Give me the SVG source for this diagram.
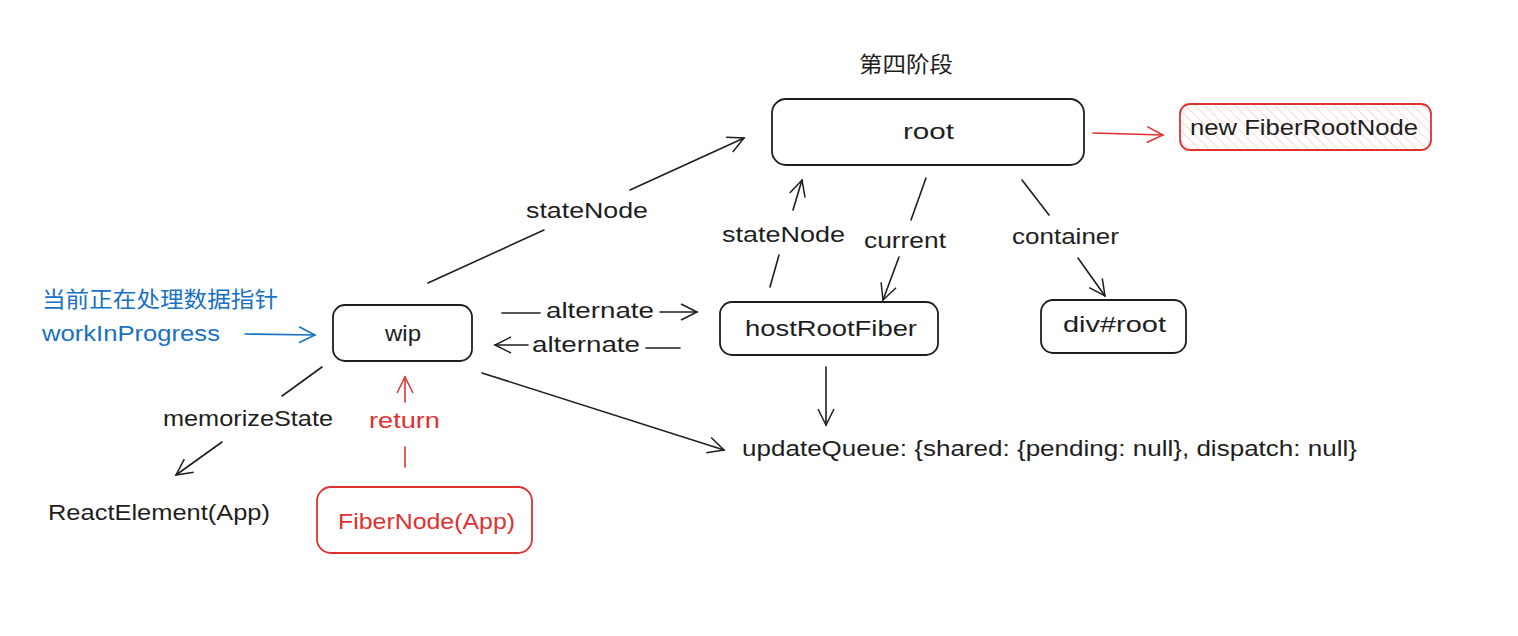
<svg xmlns="http://www.w3.org/2000/svg" width="1518" height="636" viewBox="0 0 1518 636">
<defs>
<style>
.t{font-family:"Liberation Sans","Noto Sans CJK SC",sans-serif;font-size:22px;fill:#1e1e1e}
.c{text-anchor:middle}
.box{fill:#fff;stroke:#1e1e1e;stroke-width:1.8}
.red{stroke:#e03131}
.rt{fill:#e03131}
.bt{fill:#1971c2}
.ln{fill:none;stroke:#1e1e1e;stroke-width:1.6;stroke-linecap:round}
.lr{stroke:#e03131}
.lb{stroke:#1971c2}
</style>
<pattern id="hatch" width="7" height="7" patternUnits="userSpaceOnUse" patternTransform="rotate(-45)">
<line x1="0" y1="0" x2="0" y2="7" stroke="#ffc9c9" stroke-width="1.5"/>
</pattern>
<marker id="ah" viewBox="0 0 20 20" refX="18" refY="10" markerWidth="20" markerHeight="20" markerUnits="userSpaceOnUse" orient="auto">
<path d="M2 2 L18 10 L2 18" fill="none" stroke="#1e1e1e" stroke-width="1.5"/>
</marker>
<marker id="ahr" viewBox="0 0 20 20" refX="18" refY="10" markerWidth="20" markerHeight="20" markerUnits="userSpaceOnUse" orient="auto">
<path d="M2 2 L18 10 L2 18" fill="none" stroke="#e03131" stroke-width="1.5"/>
</marker>
<marker id="ahb" viewBox="0 0 20 20" refX="18" refY="10" markerWidth="20" markerHeight="20" markerUnits="userSpaceOnUse" orient="auto">
<path d="M2 2 L18 10 L2 18" fill="none" stroke="#1971c2" stroke-width="1.5"/>
</marker>
</defs>
<rect width="1518" height="636" fill="#fff"/>

<g id="connectors">
<line class="ln" x1="428" y1="283" x2="544" y2="230"/>
<line class="ln" x1="630" y1="190" x2="744" y2="138" marker-end="url(#ah)"/>
<line class="ln" x1="770" y1="287" x2="779" y2="255"/>
<line class="ln" x1="793" y1="210" x2="802" y2="180" marker-end="url(#ah)"/>
<line class="ln" x1="926" y1="178" x2="911" y2="220"/>
<line class="ln" x1="899" y1="257" x2="883" y2="300" marker-end="url(#ah)"/>
<line class="ln" x1="1022" y1="180" x2="1049" y2="215"/>
<line class="ln" x1="1078" y1="258" x2="1105" y2="296" marker-end="url(#ah)"/>
<line class="ln" x1="502" y1="313" x2="540" y2="313"/>
<line class="ln" x1="660" y1="312" x2="697" y2="312" marker-end="url(#ah)"/>
<line class="ln" x1="680" y1="348" x2="646" y2="348"/>
<line class="ln" x1="528" y1="345" x2="495" y2="345" marker-end="url(#ah)"/>
<line class="ln" x1="826" y1="367" x2="826" y2="425" marker-end="url(#ah)"/>
<line class="ln" x1="482" y1="373" x2="724" y2="450" marker-end="url(#ah)"/>
<line class="ln" x1="322" y1="367" x2="282" y2="396"/>
<line class="ln" x1="222" y1="442" x2="176" y2="475" marker-end="url(#ah)"/>
<line class="ln lr" x1="405" y1="467" x2="405" y2="447"/>
<line class="ln lr" x1="405" y1="402" x2="405" y2="377" marker-end="url(#ahr)"/>
<line class="ln lr" x1="1093" y1="133" x2="1163" y2="135" marker-end="url(#ahr)"/>
<line class="ln lb" x1="245" y1="334" x2="315" y2="335" marker-end="url(#ahb)"/>
</g>

<g id="title"><text class="t" x="859" y="72" textLength="94" lengthAdjust="spacingAndGlyphs">第四阶段</text></g>

<g id="root"><rect class="box" x="772" y="99" width="312" height="66" rx="14"/><text class="t" x="903" y="139" textLength="51" lengthAdjust="spacingAndGlyphs">root</text></g>

<g id="newFiberRootNode"><rect x="1180" y="104" width="251" height="46" rx="10" fill="url(#hatch)" stroke="#e03131" stroke-width="1.8"/><text class="t" x="1190" y="135" textLength="228" lengthAdjust="spacingAndGlyphs">new FiberRootNode</text></g>

<g id="wip"><rect class="box" x="333" y="305" width="139" height="56" rx="12"/><text class="t" x="385" y="341" textLength="36" lengthAdjust="spacingAndGlyphs">wip</text></g>

<g id="hostRootFiber"><rect class="box" x="720" y="302" width="218" height="53" rx="12"/><text class="t" x="745" y="336" textLength="172" lengthAdjust="spacingAndGlyphs">hostRootFiber</text></g>

<g id="divroot"><rect class="box" x="1041" y="300" width="145" height="53" rx="12"/><text class="t" x="1063" y="332" textLength="103" lengthAdjust="spacingAndGlyphs">div#root</text></g>

<g id="fiberNodeApp"><rect class="box red" x="317" y="487" width="215" height="66" rx="14"/><text class="t rt" x="338" y="529" textLength="177" lengthAdjust="spacingAndGlyphs">FiberNode(App)</text></g>

<g id="reactElementApp"><text class="t" x="48" y="520" textLength="222" lengthAdjust="spacingAndGlyphs">ReactElement(App)</text></g>

<g id="updateQueue"><text class="t" x="742" y="456" textLength="615" lengthAdjust="spacingAndGlyphs">updateQueue: {shared: {pending: null}, dispatch: null}</text></g>

<g id="workInProgress">
<text class="t bt" x="42" y="307" textLength="236" lengthAdjust="spacingAndGlyphs">当前正在处理数据指针</text>
<text class="t bt" x="42" y="341" textLength="178" lengthAdjust="spacingAndGlyphs">workInProgress</text>
</g>

<g id="labels">
<text class="t" x="526" y="218" textLength="122" lengthAdjust="spacingAndGlyphs">stateNode</text>
<text class="t" x="722" y="242" textLength="123" lengthAdjust="spacingAndGlyphs">stateNode</text>
<text class="t" x="864" y="248" textLength="82" lengthAdjust="spacingAndGlyphs">current</text>
<text class="t" x="1012" y="244" textLength="107" lengthAdjust="spacingAndGlyphs">container</text>
<text class="t" x="546" y="318" textLength="108" lengthAdjust="spacingAndGlyphs">alternate</text>
<text class="t" x="532" y="352" textLength="108" lengthAdjust="spacingAndGlyphs">alternate</text>
<text class="t" x="163" y="426" textLength="170" lengthAdjust="spacingAndGlyphs">memorizeState</text>
<text class="t rt" x="369" y="428" textLength="71" lengthAdjust="spacingAndGlyphs">return</text>
</g>
</svg>
